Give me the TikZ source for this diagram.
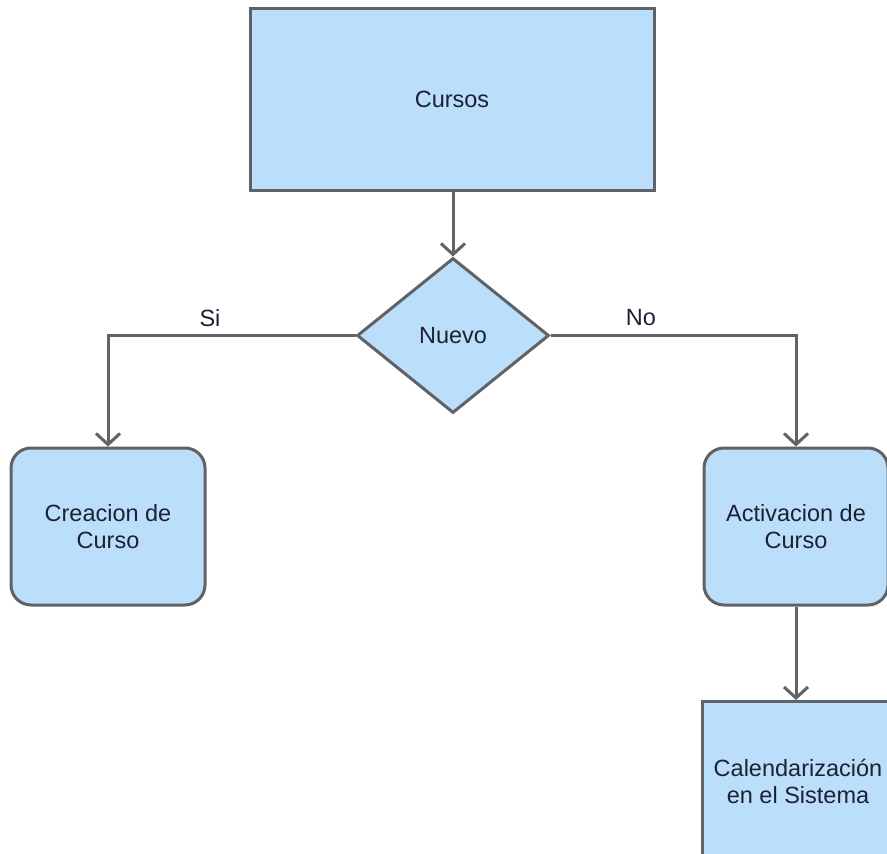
\documentclass[tikz,border=0pt]{standalone}
\usepackage{fontspec}
\setmainfont{Liberation Sans}
\usetikzlibrary{shapes.geometric,arrows.meta}
\definecolor{boxfill}{RGB}{187,222,251}
\definecolor{edgegrey}{RGB}{96,98,102}
\definecolor{ink}{RGB}{28,34,52}
\begin{document}
\begin{tikzpicture}[x=1pt,y=-1pt,
  base/.style={draw=edgegrey, line width=3pt, fill=boxfill, text=ink,
    font=\fontsize{23.5}{27}\selectfont, align=center, inner sep=0pt},
  procbox/.style={base, rectangle},
  roundbox/.style={base, rectangle, rounded corners=20pt},
  decision/.style={base, diamond},
  conn/.style={draw=edgegrey, line width=3pt,
    -{Straight Barb[length=11pt,width=24pt,line width=3pt]}},
  lbl/.style={text=ink, font=\fontsize{23.5}{27}\selectfont, inner sep=0pt}]
\useasboundingbox (0,0) rectangle (887,854);
\clip (0,0) rectangle (887,854);

\node[procbox, minimum width=404pt, minimum height=182pt] (cursos) at (452,99) {Cursos};
\node[decision, minimum width=192pt, minimum height=155pt] (nuevo) at (453,335.5) {Nuevo};
\node[roundbox, minimum width=194pt, minimum height=157pt] (creacion) at (108,526.5) {Creacion de\\Curso};
\node[roundbox, minimum width=184pt, minimum height=157pt] (activacion) at (796,526.5) {Activacion de\\Curso};
\node[procbox, minimum width=192pt, minimum height=160pt, anchor=north] (calendario) at (798,700) {Calendarización\\en el Sistema};

\draw[conn] (cursos.south -| nuevo.north) -- (nuevo.north);
\draw[conn] (nuevo.west) -| (creacion.north);
\draw[conn] (nuevo.east) -| (activacion.north);
\draw[conn] (activacion.south) -- (activacion.south |- calendario.north);

\node[lbl] (si) at (210,318) {Si};
\node[lbl] (no) at (641,318) {No};
\end{tikzpicture}
\end{document}
